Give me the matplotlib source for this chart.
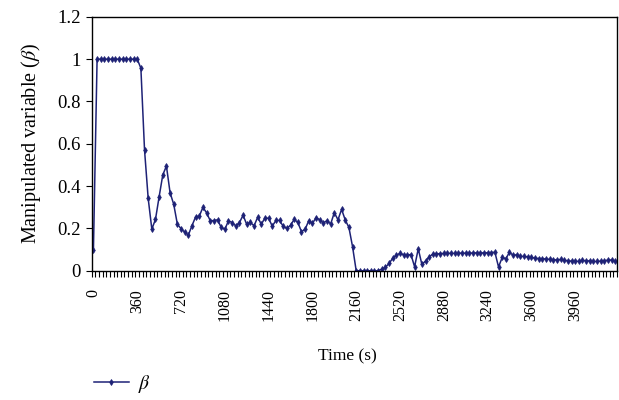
import numpy as np
import matplotlib
matplotlib.use("Agg")
import matplotlib.pyplot as plt
from matplotlib.lines import Line2D

plt.rcParams["font.family"] = ["Liberation Serif", "DejaVu Serif"]
plt.rcParams["mathtext.fontset"] = "stix"

# Sampling interval of the controller (s)
step_s = 30

# Manipulated variable beta, one value per 30 s sample
beta = [
    0.10,
    1.0, 1.0, 1.0, 1.0, 1.0, 1.0, 1.0, 1.0, 1.0, 1.0, 1.0, 1.0,
    0.957, 0.571, 0.342, 0.197, 0.243, 0.350, 0.453, 0.495, 0.369, 0.314, 0.220,
    0.199, 0.183, 0.169, 0.213, 0.255, 0.258, 0.300, 0.274, 0.237, 0.237,
    0.241, 0.205, 0.196, 0.236, 0.228, 0.212, 0.227, 0.263, 0.219, 0.230,
    0.212, 0.253, 0.220, 0.250,
    0.248, 0.211, 0.238, 0.238, 0.210, 0.200, 0.215, 0.243, 0.229, 0.185,
    0.196, 0.237, 0.224, 0.251, 0.241, 0.226, 0.237, 0.221, 0.275, 0.241,
    0.290, 0.240, 0.205, 0.114,
    0.0, 0.0, 0.0, 0.0, 0.0, 0.0, 0.0,
    0.008, 0.016, 0.035, 0.059, 0.074, 0.082, 0.076, 0.074, 0.077, 0.019,
    0.104, 0.030, 0.046, 0.066, 0.079,
    0.080, 0.081, 0.082, 0.082, 0.083, 0.082, 0.083, 0.084, 0.083, 0.084,
    0.084, 0.085, 0.084, 0.085, 0.085, 0.086,
    0.088, 0.018, 0.063, 0.057, 0.088, 0.073, 0.076, 0.068, 0.068, 0.066,
    0.063, 0.060, 0.058, 0.057, 0.056, 0.054, 0.053, 0.051, 0.054, 0.051,
    0.047, 0.046, 0.046, 0.044, 0.050, 0.047, 0.047, 0.044, 0.044, 0.046,
    0.047, 0.051, 0.051, 0.044,
]
time_s = np.arange(len(beta)) * step_s

x_tick_values = list(range(0, 3961, 360))
y_tick_values = [0, 0.2, 0.4, 0.6, 0.8, 1.0, 1.2]
y_tick_labels = ["0", "0.2", "0.4", "0.6", "0.8", "1", "1.2"]

line_color = "#1e2276"

fig = plt.figure(figsize=(6.19, 4.0), dpi=100)
ax = fig.add_axes([0.148, 0.323, 0.849, 0.635])

ax.plot(time_s, beta, color=line_color, lw=1.1, marker="d",
        markersize=3, markeredgewidth=0.6)

n = len(beta)
ax.set_xlim(-step_s / 2, (n - 0.5) * step_s)
ax.set_ylim(0, 1.2)

# category-style x axis: small ticks between samples, labels every 360 s
ax.set_xticks(x_tick_values)
ax.set_xticklabels([str(v) for v in x_tick_values], rotation=90,
                   va="top", ha="center", fontsize=11.5)
ax.tick_params(axis="x", which="major", length=0, pad=13)
ax.set_xticks(np.arange(n + 1) * step_s - step_s / 2, minor=True)
ax.tick_params(axis="x", which="minor", length=4, width=0.8, direction="out")

ax.set_yticks(y_tick_values)
ax.set_yticklabels(y_tick_labels, fontsize=13.5)
ax.tick_params(axis="y", length=4, width=0.8, direction="out", pad=4)

for s in ax.spines.values():
    s.set_linewidth(1.0)
    s.set_color("black")

ax.set_ylabel(r"Manipulated variable ($\beta$)", fontsize=14.5)
ax.yaxis.set_label_coords(-0.093, 0.5)
ax.set_xlabel("Time (s)", fontsize=12.5)
ax.xaxis.set_label_coords(0.487, -0.305)

handle = Line2D([], [], color=line_color, lw=1.1, marker="d",
                markersize=3, markeredgewidth=0.6)
fig.legend([handle], [r"$\beta$"], loc="center left",
           bbox_to_anchor=(0.145, 0.04), frameon=False, fontsize=14,
           handlelength=1.8, handletextpad=0.5, borderaxespad=0,
           borderpad=0.2)

fig.savefig("out.png", dpi=100)
